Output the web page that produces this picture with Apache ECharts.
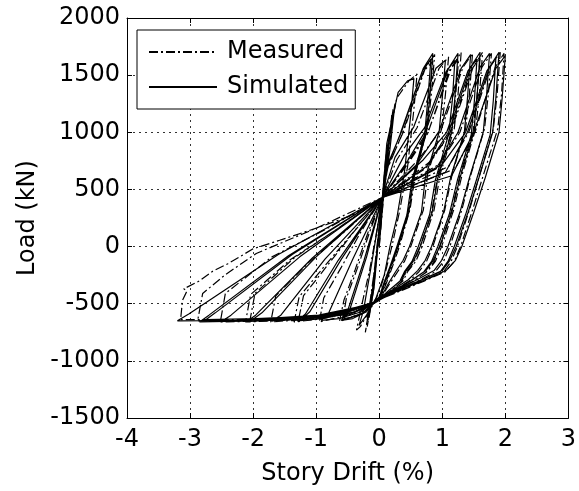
<!DOCTYPE html>
<html>
<head>
<meta charset="utf-8">
<script src="https://cdn.jsdelivr.net/npm/echarts@6/dist/echarts.min.js"></script>
<style>
html,body{margin:0;padding:0;background:#fff;}
#chart{width:579px;height:491px;}
</style>
</head>
<body>
<div id="chart"></div>
<script>
// Tick values
var xTicks = [-4, -3, -2, -1, 0, 1, 2, 3];
var yTicks = [-1500, -1000, -500, 0, 500, 1000, 1500, 2000];

// Measured hysteresis (story drift %, load kN)
var measured = [
  [0,0],[0.08,500],[0.15,900],[0.1,600],[0.02,250],[-0.1,-400],[-0.22,-750],[-0.15,-500],[-0.05,-100],[0.05,430],
  [0.1,750],[0.22,1200],[0.15,800],[0.03,330],[-0.09,-380],[-0.19,-700],[-0.12,-420],[0.05,430],
  [0.12,850],[0.28,1300],[0.47,1450],[0.6,1510],[0.55,1200],[0.45,700],[0.32,300],[0.2,0],[0.1,-220],[0.0,-400],[-0.15,-560],[-0.3,-700],[-0.36,-730],[-0.28,-520],[-0.15,-200],[-0.05,100],[0.05,430],
  [0.14,700],[0.38,1000],[0.73,1560],[0.88,1680],[0.83,1350],[0.77,1050],[0.58,650],[0.49,330],[0.32,0],[0.22,-160],[0.12,-310],[0.03,-440],[-0.12,-500],[-0.25,-580],[-0.45,-620],[-0.63,-655],[-0.56,-470],[-0.38,-200],[-0.18,120],[0.05,430],
  [0.13,680],[0.36,980],[0.7,1530],[0.85,1620],[0.8,1320],[0.74,1020],[0.55,630],[0.46,310],[0.3,0],[0.2,-170],[0.1,-320],[0.01,-450],[-0.12,-510],[-0.28,-590],[-0.5,-630],[-0.58,-640],[-0.52,-450],[-0.34,-180],[-0.15,130],[0.05,430],
  [0.28,760],[0.6,1040],[0.95,1560],[1.1,1660],[1.05,1330],[0.99,1030],[0.77,640],[0.7,320],[0.5,0],[0.4,-130],[0.28,-230],[0.16,-330],[0.04,-440],[-0.12,-500],[-0.32,-575],[-0.68,-625],[-0.95,-660],[-0.88,-450],[-0.6,-180],[-0.3,120],[0.05,430],
  [0.5,780],[0.8,1040],[1.15,1570],[1.3,1700],[1.25,1330],[1.19,1030],[0.97,640],[0.87,320],[0.68,0],[0.58,-130],[0.45,-220],[0.38,-300],[0.17,-390],[0.02,-460],[-0.12,-500],[-0.42,-580],[-0.95,-635],[-1.35,-660],[-1.27,-440],[-0.85,-160],[-0.42,120],[0.05,430],
  [0.45,720],[0.77,990],[1.11,1540],[1.26,1640],[1.21,1310],[1.15,1010],[0.93,620],[0.83,300],[0.65,0],[0.55,-140],[0.42,-230],[0.35,-310],[0.15,-400],[0.0,-470],[-0.12,-510],[-0.45,-590],[-0.95,-625],[-1.28,-640],[-1.2,-430],[-0.8,-150],[-0.4,130],[0.05,430],
  [0.62,760],[0.98,1020],[1.33,1570],[1.48,1690],[1.43,1330],[1.37,1030],[1.16,640],[1.04,320],[0.85,0],[0.75,-130],[0.63,-220],[0.48,-300],[0.22,-390],[0.02,-460],[-0.12,-500],[-0.54,-585],[-1.22,-640],[-1.72,-660],[-1.64,-430],[-1.1,-130],[-0.55,130],[0.05,430],
  [0.8,740],[1.14,1010],[1.49,1570],[1.64,1700],[1.59,1330],[1.53,1030],[1.32,640],[1.18,320],[0.99,0],[0.89,-130],[0.76,-220],[0.55,-300],[0.25,-390],[0.02,-460],[-0.12,-500],[-0.66,-590],[-1.5,-645],[-2.12,-660],[-2.04,-420],[-1.4,-110],[-0.7,140],[0.05,430],
  [0.75,690],[1.11,980],[1.45,1540],[1.6,1650],[1.55,1310],[1.49,1010],[1.28,620],[1.14,300],[0.96,0],[0.86,-140],[0.73,-230],[0.52,-310],[0.23,-400],[0.0,-470],[-0.12,-510],[-0.68,-600],[-1.48,-630],[-2.05,-645],[-1.97,-410],[-1.35,-100],[-0.68,150],[0.05,430],
  [0.95,720],[1.28,1000],[1.63,1570],[1.78,1690],[1.73,1330],[1.67,1030],[1.46,640],[1.31,320],[1.12,0],[1.02,-130],[0.89,-220],[0.62,-300],[0.28,-390],[0.02,-460],[-0.12,-505],[-0.78,-600],[-1.78,-650],[-2.52,-660],[-2.44,-410],[-1.7,-90],[-0.85,150],[0.05,430],
  [1.1,700],[1.42,1000],[1.77,1580],[1.92,1700],[1.87,1330],[1.81,1030],[1.6,640],[1.43,320],[1.24,0],[1.14,-130],[1.02,-220],[0.69,-300],[0.31,-390],[0.02,-460],[-0.12,-505],[-0.88,-610],[-2.02,-650],[-2.88,-650],[-2.8,-410],[-2.45,-250],[-1.95,-60],[-1.0,160],[0.05,430],
  [1.2,680],[1.52,1000],[1.84,1570],[1.98,1690],[1.94,1330],[1.88,1030],[1.66,640],[1.48,320],[1.29,0],[1.19,-130],[1.05,-220],[0.72,-300],[0.33,-390],[0.02,-460],[-0.12,-510],[-0.98,-615],[-2.26,-640],[-3.15,-640],[-3.12,-470],[-3.05,-390],[-3.1,-370],[-2.85,-300],[-2.64,-215],[-2.4,-150],[-2.0,-20],[-1.58,55],[-0.95,170],[-0.4,280],[0.05,430]
];

// Simulated hysteresis (story drift %, load kN)
var simulated = [
  [0,0],[0.1,650],[0.2,1150],[0.12,700],[0.03,300],[-0.08,-300],[-0.16,-620],[-0.08,-350],[0.05,430],
  [0.12,800],[0.25,1250],[0.17,850],[0.04,350],[-0.1,-350],[-0.2,-680],[-0.1,-380],[0.05,430],
  [0.12,900],[0.3,1350],[0.45,1450],[0.55,1470],[0.5,1150],[0.4,650],[0.28,250],[0.17,0],[0.08,-250],[-0.05,-450],[-0.2,-600],[-0.32,-690],[-0.25,-560],[-0.12,-150],[0.05,430],
  [0.12,700],[0.35,1000],[0.7,1560],[0.85,1690],[0.8,1300],[0.75,1000],[0.55,600],[0.47,300],[0.3,0],[0.2,-150],[0.1,-300],[0.02,-430],[-0.1,-490],[-0.2,-570],[-0.42,-630],[-0.6,-645],[-0.5,-560],[-0.24,-120],[0.05,430],
  [0.12,680],[0.33,980],[0.68,1530],[0.82,1640],[0.77,1280],[0.72,980],[0.52,580],[0.44,280],[0.28,0],[0.18,-160],[0.08,-310],[0.0,-440],[-0.1,-500],[-0.25,-580],[-0.45,-620],[-0.56,-630],[-0.46,-540],[-0.2,-90],[0.05,430],
  [0.25,780],[0.55,1050],[0.9,1560],[1.05,1630],[1.0,1300],[0.95,1000],[0.73,600],[0.67,300],[0.48,0],[0.38,-120],[0.26,-220],[0.15,-320],[0.04,-430],[-0.1,-490],[-0.28,-570],[-0.64,-630],[-0.92,-645],[-0.8,-580],[-0.42,-110],[0.05,430],
  [0.45,750],[0.75,1030],[1.1,1560],[1.25,1690],[1.2,1300],[1.15,1000],[0.93,600],[0.84,300],[0.65,0],[0.55,-120],[0.43,-210],[0.36,-290],[0.16,-380],[0.02,-450],[-0.1,-490],[-0.39,-570],[-0.91,-630],[-1.3,-650],[-1.17,-590],[-0.65,-120],[0.05,430],
  [0.4,800],[0.72,1040],[1.06,1530],[1.2,1630],[1.16,1280],[1.1,980],[0.89,580],[0.8,280],[0.62,0],[0.52,-130],[0.4,-220],[0.33,-300],[0.14,-390],[0.0,-460],[-0.1,-500],[-0.42,-580],[-0.9,-620],[-1.22,-630],[-1.1,-570],[-0.6,-110],[0.05,430],
  [0.6,720],[0.95,1010],[1.3,1560],[1.45,1680],[1.4,1300],[1.35,1000],[1.13,600],[1.02,300],[0.83,0],[0.73,-120],[0.61,-210],[0.46,-290],[0.21,-380],[0.02,-450],[-0.1,-490],[-0.51,-575],[-1.19,-635],[-1.7,-650],[-1.56,-600],[-0.86,-110],[0.05,430],
  [0.75,700],[1.1,1000],[1.45,1570],[1.6,1700],[1.55,1300],[1.5,1000],[1.28,600],[1.15,300],[0.96,0],[0.86,-120],[0.74,-210],[0.53,-290],[0.24,-380],[0.02,-450],[-0.1,-490],[-0.63,-580],[-1.47,-640],[-2.1,-655],[-1.96,-600],[-1.06,-100],[0.05,430],
  [0.7,760],[1.07,1000],[1.41,1540],[1.55,1640],[1.51,1280],[1.46,980],[1.24,580],[1.11,280],[0.93,0],[0.83,-130],[0.71,-220],[0.5,-300],[0.22,-390],[0.0,-460],[-0.1,-500],[-0.65,-590],[-1.45,-625],[-2.0,-635],[-1.86,-580],[-1.0,-90],[0.05,430],
  [0.9,680],[1.25,1000],[1.6,1570],[1.75,1690],[1.7,1300],[1.65,1000],[1.43,600],[1.28,300],[1.09,0],[0.99,-120],[0.87,-210],[0.6,-290],[0.27,-380],[0.02,-450],[-0.1,-490],[-0.75,-590],[-1.75,-645],[-2.5,-655],[-2.35,-600],[-1.26,-90],[0.05,430],
  [1.05,650],[1.4,1000],[1.75,1570],[1.9,1700],[1.85,1300],[1.8,1000],[1.58,600],[1.41,300],[1.22,0],[1.12,-120],[1.0,-210],[0.67,-290],[0.3,-380],[0.02,-450],[-0.1,-495],[-0.86,-600],[-2.0,-650],[-2.85,-660],[-2.7,-600],[-1.44,-80],[0.05,430],
  [1.0,720],[1.37,1000],[1.71,1540],[1.85,1650],[1.81,1280],[1.76,980],[1.54,580],[1.37,280],[1.19,0],[1.09,-130],[0.97,-220],[0.64,-300],[0.28,-390],[0.0,-460],[-0.1,-505],[-0.88,-605],[-1.95,-630],[-2.75,-640],[-2.6,-580],[-1.38,-70],[0.05,430],
  [1.15,620],[1.5,1000],[1.85,1560],[2.0,1670],[1.95,1300],[1.9,1000],[1.68,600],[1.5,300],[1.31,0],[1.21,-120],[1.06,-210],[0.74,-290],[0.32,-380],[0.02,-450],[-0.1,-500],[-0.96,-600],[-2.24,-645],[-3.2,-650],[-3.02,-590],[-1.6,-70],[0.05,430]
];

var FONT = 'DejaVu Sans';
var chart = echarts.init(document.getElementById('chart'), null, {renderer: 'canvas'});

var gridLine = {show: true, lineStyle: {color: '#333', width: 1, type: [2, 4]}};
var boxLine = {show: true, onZero: false, lineStyle: {color: '#000', width: 1}};
var tick = {show: true, inside: true, length: 5, lineStyle: {color: '#000'}};
var plainNum = function (v) { return String(v); };

chart.setOption({
  animation: false,
  backgroundColor: '#fff',
  grid: {left: 127, right: 9, top: 18, bottom: 73, containLabel: false},
  legend: {
    orient: 'vertical',
    left: 137, top: 30,
    padding: [10, 7, 10, 11],
    itemGap: 11,
    itemWidth: 68, itemHeight: 14,
    backgroundColor: '#fff',
    borderColor: '#000', borderWidth: 1,
    itemStyle: {opacity: 0},
    textStyle: {fontFamily: FONT, fontSize: 24, color: '#000', padding: [0, 0, 0, 5]},
    data: ['Measured', 'Simulated']
  },
  xAxis: [{
    type: 'value', min: xTicks[0], max: xTicks[xTicks.length - 1], interval: 1,
    position: 'bottom',
    name: 'Story Drift (%)', nameLocation: 'middle', nameGap: 44,
    nameTextStyle: {fontFamily: FONT, fontSize: 24, color: '#000'},
    axisLine: boxLine, axisTick: tick,
    axisLabel: {fontFamily: FONT, fontSize: 24, color: '#000', margin: 10, formatter: plainNum},
    splitLine: gridLine
  }, {
    type: 'value', min: xTicks[0], max: xTicks[xTicks.length - 1], interval: 1,
    position: 'top',
    axisLine: boxLine, axisTick: tick, axisLabel: {show: false}, splitLine: {show: false}
  }],
  yAxis: [{
    type: 'value', min: yTicks[0], max: yTicks[yTicks.length - 1], interval: 500,
    position: 'left',
    name: 'Load (kN)', nameLocation: 'middle', nameGap: 80,
    nameTextStyle: {fontFamily: FONT, fontSize: 24, color: '#000'},
    axisLine: boxLine, axisTick: tick,
    axisLabel: {fontFamily: FONT, fontSize: 24, color: '#000', margin: 7, formatter: plainNum},
    splitLine: gridLine
  }, {
    type: 'value', min: yTicks[0], max: yTicks[yTicks.length - 1], interval: 500,
    position: 'right',
    axisLine: boxLine, axisTick: tick, axisLabel: {show: false}, splitLine: {show: false}
  }],
  series: [{
    name: 'Measured', type: 'line', xAxisIndex: 0, yAxisIndex: 0,
    data: measured, showSymbol: false, symbol: 'none', smooth: false,
    lineStyle: {color: '#000', width: 1.2, type: [9, 3, 2, 3]},
    itemStyle: {color: '#000'}
  }, {
    name: 'Simulated', type: 'line', xAxisIndex: 0, yAxisIndex: 0,
    data: simulated, showSymbol: false, symbol: 'none', smooth: false,
    lineStyle: {color: '#000', width: 1.2, type: 'solid'},
    itemStyle: {color: '#000'}
  }]
});
</script>
</body>
</html>
